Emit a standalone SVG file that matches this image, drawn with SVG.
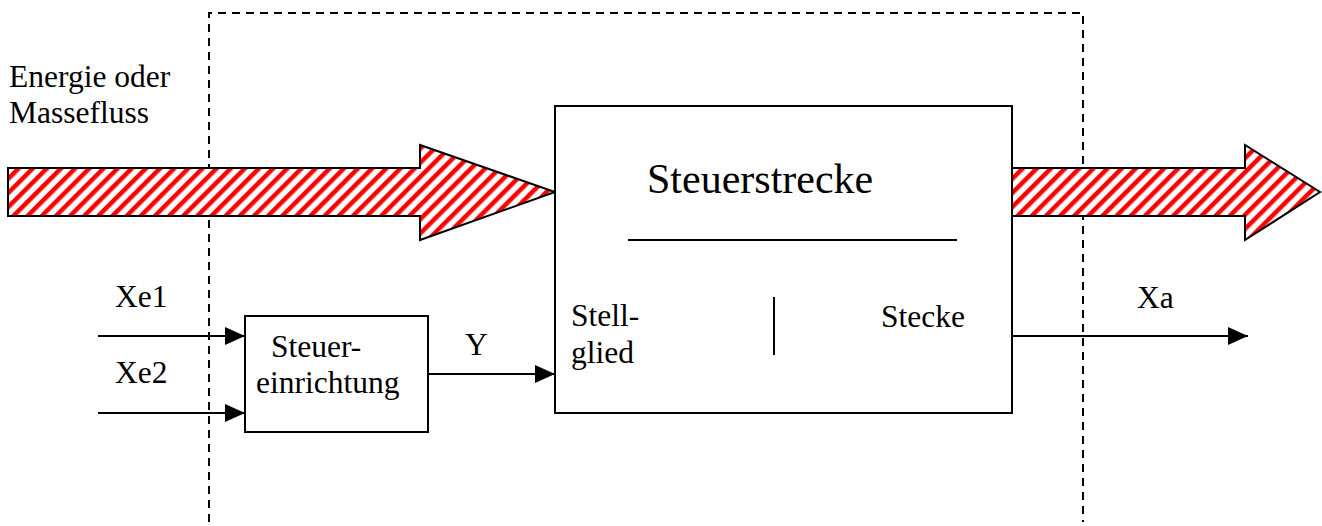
<svg xmlns="http://www.w3.org/2000/svg" width="1322" height="526" viewBox="0 0 1322 526" font-family="Liberation Serif, DejaVu Serif, serif">
<style>
text{font-family:'Liberation Serif','DejaVu Serif',serif;fill:#000}
.t{font-size:31.5px}
.title{font-size:42px}
.box{fill:#fff;stroke:#000;stroke-width:2}
.ln{stroke:#000;stroke-width:2;fill:none}
.dash{stroke:#000;stroke-width:2;fill:none;stroke-dasharray:8 6}
.flow{fill:url(#hatch);stroke:#000;stroke-width:2;stroke-linejoin:miter}
</style>
<defs>
<pattern id="hatch" patternUnits="userSpaceOnUse" width="10" height="10" patternTransform="rotate(45)">
<rect x="0" y="0" width="10" height="10" fill="#fff"/>
<rect x="0" y="0" width="4.5" height="10" fill="#ff0000"/>
</pattern>
<marker id="arr" markerUnits="userSpaceOnUse" markerWidth="20" markerHeight="18" refX="20" refY="9" orient="auto">
<path d="M0,0 L20,9 L0,18 Z" fill="#000"/>
</marker>
</defs>
<g id="boundary">
<path class="dash" d="M209,522 L209,13 L1083,13 L1083,522"/>
</g>
<g id="flow-in">
<path class="flow" d="M8,168 L420,168 L420,145 L555,192 L420,240 L420,216 L8,216 Z"/>
<text class="t" x="9" y="87">Energie oder</text>
<text class="t" x="9" y="123">Massefluss</text>
</g>
<g id="flow-out">
<path class="flow" d="M1012,168 L1245,168 L1245,145 L1320,192 L1245,240 L1245,216 L1012,216 Z"/>
</g>
<g id="steuerstrecke">
<rect class="box" x="555" y="106" width="457" height="307"/>
<text class="title" x="647" y="193">Steuerstrecke</text>
<line class="ln" x1="628" y1="240" x2="957" y2="240"/>
<line class="ln" x1="774" y1="297" x2="774" y2="355"/>
<text class="t" x="571" y="326">Stell-</text>
<text class="t" x="571" y="363">glied</text>
<text class="t" x="881" y="327">Stecke</text>
</g>
<g id="steuereinrichtung">
<rect class="box" x="245" y="316" width="183" height="116"/>
<text class="t" x="271" y="357">Steuer-</text>
<text class="t" x="256" y="393">einrichtung</text>
</g>
<g id="connectors">
<line class="ln" x1="98" y1="336" x2="245" y2="336" marker-end="url(#arr)"/>
<line class="ln" x1="98" y1="413" x2="245" y2="413" marker-end="url(#arr)"/>
<line class="ln" x1="428" y1="374" x2="555" y2="374" marker-end="url(#arr)"/>
<line class="ln" x1="1012" y1="336" x2="1248" y2="336" marker-end="url(#arr)"/>
</g>
<g id="labels">
<text class="t" x="115" y="307">Xe1</text>
<text class="t" x="115" y="383">Xe2</text>
<text class="t" x="465" y="355">Y</text>
<text class="t" x="1137" y="308">Xa</text>
</g>
</svg>
